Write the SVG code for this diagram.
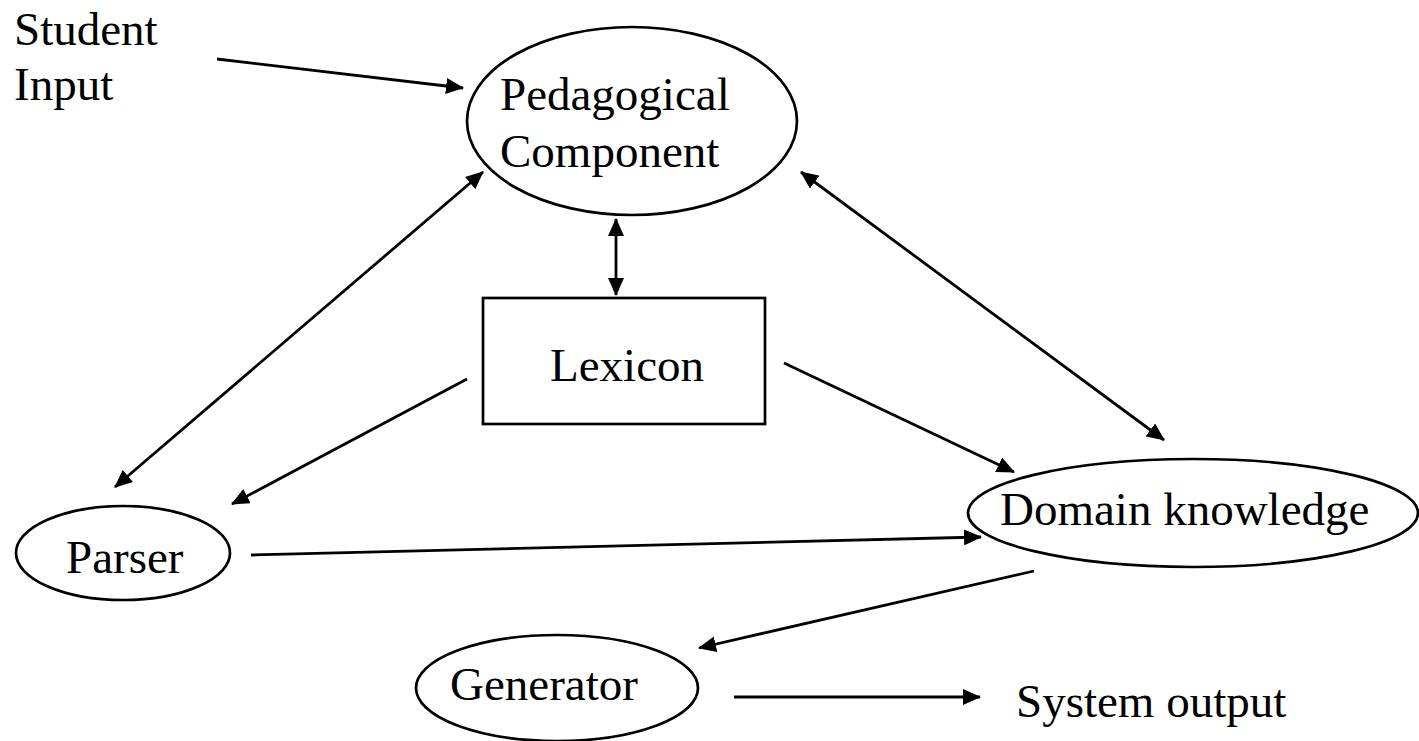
<svg xmlns="http://www.w3.org/2000/svg" width="1419" height="741" viewBox="0 0 1419 741">
<style>
.shape{fill:#fff;stroke:#000;stroke-width:2.7}
.lbl{font-family:"Liberation Serif","Times New Roman",serif;font-size:47px;fill:#000}
.conn{stroke:#000;stroke-width:2.8;fill:none}
</style>
<defs>
<marker id="ah" markerUnits="userSpaceOnUse" markerWidth="18" markerHeight="16" refX="17" refY="8" orient="auto-start-reverse" viewBox="0 0 18 16">
<path d="M0,0 L18,8 L0,16 z" fill="#000"/>
</marker>
</defs>
<rect width="1419" height="741" fill="#fff"/>
<g id="connectors">
<line class="conn" x1="217" y1="59" x2="463" y2="88" marker-end="url(#ah)"/>
<line class="conn" x1="115" y1="487" x2="483" y2="172" marker-start="url(#ah)" marker-end="url(#ah)"/>
<line class="conn" x1="616" y1="219" x2="616" y2="295" marker-start="url(#ah)" marker-end="url(#ah)"/>
<line class="conn" x1="801" y1="172" x2="1164" y2="440" marker-start="url(#ah)" marker-end="url(#ah)"/>
<line class="conn" x1="467" y1="379" x2="232" y2="504" marker-end="url(#ah)"/>
<line class="conn" x1="784" y1="363" x2="1014" y2="472" marker-end="url(#ah)"/>
<line class="conn" x1="251" y1="555" x2="981" y2="537" marker-end="url(#ah)"/>
<line class="conn" x1="1034" y1="571" x2="699" y2="648" marker-end="url(#ah)"/>
<line class="conn" x1="734" y1="697" x2="980" y2="697" marker-end="url(#ah)"/>
</g>
<g id="student-input">
<text class="lbl" x="14" y="45">Student</text>
<text class="lbl" x="14" y="100">Input</text>
</g>
<g id="pedagogical">
<ellipse class="shape" cx="632" cy="121" rx="165" ry="94"/>
<text class="lbl" x="500" y="110">Pedagogical</text>
<text class="lbl" x="500" y="167">Component</text>
</g>
<g id="lexicon">
<rect class="shape" x="483" y="298" width="282" height="126"/>
<text class="lbl" x="550" y="381">Lexicon</text>
</g>
<g id="parser">
<ellipse class="shape" cx="123" cy="553" rx="107" ry="47"/>
<text class="lbl" x="66" y="573">Parser</text>
</g>
<g id="domain">
<ellipse class="shape" cx="1193" cy="513" rx="225" ry="54"/>
<text class="lbl" x="1000" y="525">Domain knowledge</text>
</g>
<g id="generator">
<ellipse class="shape" cx="557" cy="688" rx="141" ry="53"/>
<text class="lbl" x="450" y="700">Generator</text>
</g>
<g id="system-output">
<text class="lbl" x="1016" y="717">System output</text>
</g>
</svg>
